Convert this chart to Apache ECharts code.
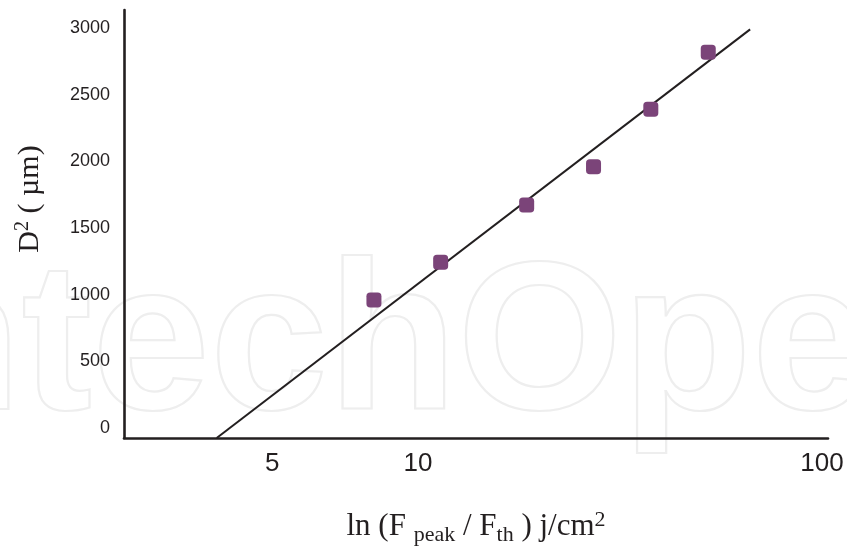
<!DOCTYPE html>
<html><head><meta charset="utf-8">
<script src="https://cdn.jsdelivr.net/npm/echarts@6/dist/echarts.min.js"></script>
<style>html,body{margin:0;padding:0;background:#fff}#c{width:847px;height:547px}</style>
</head><body><div id="c"></div>
<script>
// Measured points: fluence ratio (log axis) vs D^2
const fluence = [7.78, 11.38, 18.58, 27.2, 37.7, 52.3];
const diameterSq = [960, 1243, 1672, 1960, 2390, 2818];
// Fitted straight line (two end points)
const fitFluence = [3.175, 66.4];
const fitDiameterSq = [-75, 2990];
// Tick labels
const xTickAt = [4.36, 10, 100];
const xTickText = ['5', '10', '100'];
const yTicks = [0, 500, 1000, 1500, 2000, 2500, 3000];

const lg = Math.log10;
const chart = echarts.init(document.getElementById('c'), null, {renderer: 'canvas'});
const ink = '#231f20';
chart.setOption({
  animation: false,
  backgroundColor: '#fff',
  grid: {left: 124, right: 19, top: 10, bottom: 109, containLabel: false, outerBoundsMode: 'none'},
  graphic: [{
    type: 'text', x: -167, y: 351, z: -10, silent: true,
    style: {text: 'IntechOpen', font: 'bold 212px "Liberation Sans"', fill: 'none',
            stroke: '#eeeeee', lineWidth: 2.2, verticalAlign: 'middle', align: 'left'}
  }],
  xAxis: {
    type: 'value', min: lg(1.872), max: lg(103.5),
    axisLine: {show: true, onZero: false, lineStyle: {color: ink, width: 2.6}},
    axisTick: {show: false}, splitLine: {show: false},
    axisLabel: {
      customValues: xTickAt.map(lg), margin: 13,
      color: ink, fontSize: 26, fontFamily: 'Liberation Sans',
      formatter: v => { const i = xTickAt.findIndex(t => Math.abs(lg(t) - v) < 1e-6); return i >= 0 ? xTickText[i] : ''; }
    },
    name: 'ln (F {sub|peak} / F{sub|th} ) j/cm{sup|2}',
    nameLocation: 'middle', nameGap: 70,
    nameTextStyle: {
      color: ink, fontSize: 31, fontFamily: 'Liberation Serif',
      rich: {
        sub: {fontSize: 22, fontFamily: 'Liberation Serif', color: ink, padding: [16, 0, 0, 0]},
        sup: {fontSize: 22, fontFamily: 'Liberation Serif', color: ink, padding: [0, 0, 14, 0]}
      }
    }
  },
  yAxis: {
    type: 'value', min: -75, max: 3135,
    axisLine: {show: true, onZero: false, lineStyle: {color: ink, width: 2.6}},
    axisTick: {show: false}, splitLine: {show: false},
    axisLabel: {customValues: yTicks, margin: 14, color: ink, fontSize: 18, fontFamily: 'Liberation Sans',
                formatter: v => String(v)},
    name: 'D{sup|2} ( µm)',
    nameLocation: 'middle', nameRotate: 90, nameGap: 77,
    nameTextStyle: {
      color: ink, fontSize: 30, fontFamily: 'Liberation Serif', padding: [0, 0, 0, 50],
      rich: {sup: {fontSize: 20, fontFamily: 'Liberation Serif', color: ink, padding: [0, 0, 14, 0]}}
    }
  },
  series: [
    {
      type: 'line', data: fitFluence.map((x, i) => [lg(x), fitDiameterSq[i]]),
      symbol: 'none', lineStyle: {color: ink, width: 2}, z: 2, silent: true
    },
    {
      type: 'scatter', data: fluence.map((x, i) => [lg(x), diameterSq[i]]),
      symbol: 'roundRect', symbolSize: 15, itemStyle: {color: '#7b4479', opacity: 1}, z: 3
    }
  ]
});
</script></body></html>
